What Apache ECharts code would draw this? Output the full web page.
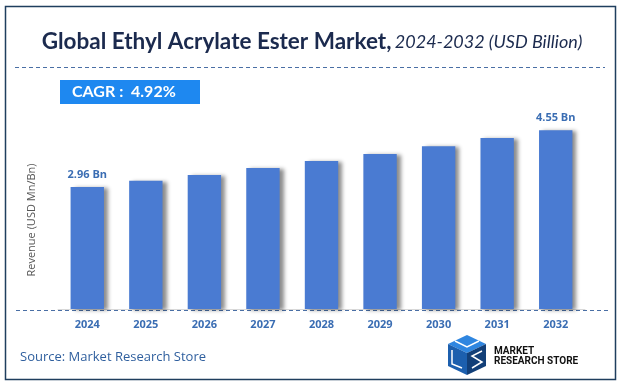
<!DOCTYPE html>
<html>
<head>
<meta charset="utf-8">
<script src="https://cdn.jsdelivr.net/npm/echarts@6/dist/echarts.min.js"></script>
<style>
html,body{margin:0;padding:0;background:#fff;}
#chart{width:622px;height:387px;}
</style>
</head>
<body>
<div id="chart"></div>
<script>
var years = ['2024','2025','2026','2027','2028','2029','2030','2031','2032'];
var revenue = [2.96, 3.11, 3.25, 3.42, 3.59, 3.76, 3.95, 4.15, 4.34];
var barLabels = ['2.96 Bn','','','','','','','','4.55 Bn'];
var titleMain = 'Global Ethyl Acrylate Ester Market,';
var titleSub = '2024-2032 (USD Billion)';
var cagrText = 'CAGR :  4.92%';
var yName = 'Revenue (USD Mn/Bn)';
var sourceText = 'Source: Market Research Store';

var chart = echarts.init(document.getElementById('chart'), null, {renderer:'canvas'});
var navy = '#1b2a4e';
var option = {
  backgroundColor: '#ffffff',
  animation: false,
  grid: {left: 58, right: 37, top: 103, bottom: 78},
  xAxis: {
    type: 'category',
    data: years,
    axisTick: {show: false},
    axisLine: {show: true, lineStyle: {color: '#d9d9d9', width: 1}},
    axisLabel: {color: '#3a6db3', fontWeight: 'bold', fontSize: 11, fontFamily: 'Open Sans', margin: 10}
  },
  yAxis: {
    type: 'value',
    min: 0, max: 5,
    show: false,
    splitLine: {show: false}
  },
  series: [{
    type: 'bar',
    data: revenue,
    barWidth: '57%',
    itemStyle: {
      color: '#4a7bd2',
      shadowColor: 'rgba(0,0,0,0.45)',
      shadowBlur: 4,
      shadowOffsetX: 4,
      shadowOffsetY: 1
    },
    label: {
      show: true,
      position: 'top',
      distance: 7,
      color: '#3a6db3',
      fontWeight: 'bold',
      fontSize: 11,
      fontFamily: 'Open Sans',
      formatter: function(p){ return barLabels[p.dataIndex]; }
    }
  }],
  graphic: [
    {type:'rect', shape:{x:5.5, y:6.5, width:610, height:373}, style:{fill:'none', stroke:'#1f3e5e', lineWidth:1.5}, silent:true},
    {type:'text', x:312, y:42, style:{
      text: '{a|' + titleMain + '} {b|' + titleSub + '}',
      align:'center', verticalAlign:'middle',
      rich:{
        a:{fontSize:22.5, fontWeight:'bold', fill:navy, fontFamily:'Lato'},
        b:{fontSize:18, fontStyle:'italic', fill:navy, fontFamily:'Lato'}
      }
    }},
    {type:'line', shape:{x1:15, y1:67.5, x2:605, y2:67.5}, style:{stroke:'#4a6fa5', lineWidth:1, lineDash:[4,3]}},
    {type:'rect', shape:{x:60, y:80, width:140, height:24}, style:{fill:'#1e88f0'}},
    {type:'text', x:72, y:92, style:{text:cagrText, fill:'#ffffff', fontSize:16, fontWeight:'bold', fontFamily:'Lato', verticalAlign:'middle'}},
    {type:'text', x:32, y:220, rotation:Math.PI/2, style:{text:yName, fill:'#555555', fontSize:11, fontFamily:'Open Sans', align:'center', verticalAlign:'middle'}},
    {type:'line', shape:{x1:16, y1:310.5, x2:608, y2:310.5}, style:{stroke:'#4a6fa5', lineWidth:1, lineDash:[4,3]}},
    {type:'text', x:20, y:357, style:{text:sourceText, fill:'#2f5f9e', fontSize:13, fontFamily:'Open Sans', verticalAlign:'middle'}},
    {type:'polygon', shape:{points:[[448,344],[467,335],[486,344],[467,353]]}, style:{fill:'#2f86e0'}},
    {type:'polygon', shape:{points:[[448,344],[467,353],[467,375],[448,366]]}, style:{fill:'#1c5fae'}},
    {type:'polygon', shape:{points:[[467,353],[486,344],[486,366],[467,375]]}, style:{fill:'#123f78'}},
    {type:'polyline', shape:{points:[[455,341],[467,347],[479,341]]}, style:{stroke:'#ffffff', lineWidth:1.5, fill:'none'}},
    {type:'polyline', shape:{points:[[452,350],[452,364],[462,368]]}, style:{stroke:'#ffffff', lineWidth:1.5, fill:'none'}},
    {type:'polyline', shape:{points:[[482,351],[472,356],[482,362],[472,368]]}, style:{stroke:'#ffffff', lineWidth:1.5, fill:'none'}},
    {type:'text', x:494, y:351, style:{text:'MARKET', fill:'#111111', fontSize:10, fontWeight:'bold', fontFamily:'Liberation Sans Narrow, Roboto', verticalAlign:'middle'}},
    {type:'text', x:494, y:361, style:{text:'RESEARCH STORE', fill:'#111111', fontSize:10, fontWeight:'bold', fontFamily:'Liberation Sans Narrow, Roboto', verticalAlign:'middle'}}
  ]
};
chart.setOption(option);
</script>
</body>
</html>
